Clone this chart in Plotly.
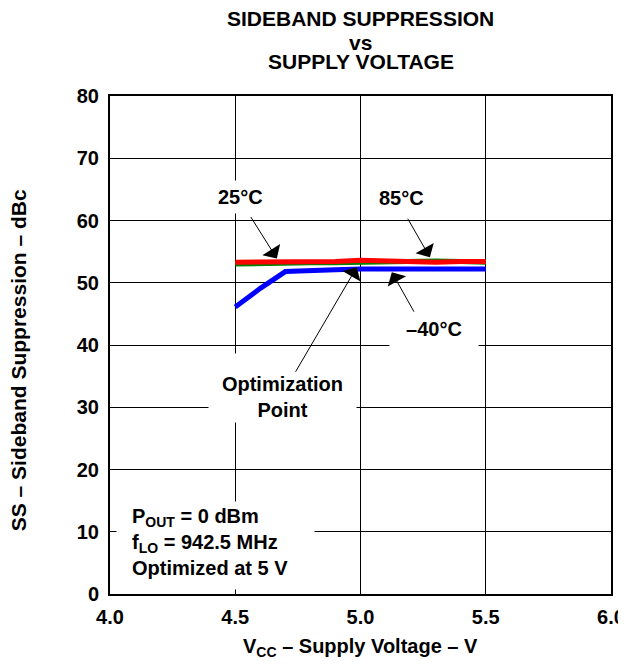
# Sideband suppression vs supply voltage, redrawn with plotly
import plotly.graph_objects as go

# supply voltage points (V)
vcc = [4.5, 4.6, 4.7, 4.8, 4.9, 5.0, 5.1, 5.2, 5.3, 5.4, 5.5]

# sideband suppression (dBc) for each temperature
ss_85c = [53.0, 53.1, 53.1, 53.2, 53.2, 53.3, 53.3, 53.4, 53.5, 53.4, 53.3]
ss_25c = [53.3, 53.3, 53.4, 53.4, 53.4, 53.6, 53.5, 53.3, 53.3, 53.4, 53.4]
ss_m40c = [46.1, 49.1, 51.8, 52.0, 52.1, 52.2, 52.2, 52.1, 52.0, 52.2, 52.2]

x_ticks = [4.0, 4.5, 5.0, 5.5, 6.0]
y_ticks = [0, 10, 20, 30, 40, 50, 60, 70, 80]

FONT = "Liberation Sans, Arial, sans-serif"

fig = go.Figure()
fig.add_trace(go.Scatter(x=vcc, y=ss_85c, mode="lines", line=dict(color="#008000", width=5)))
fig.add_trace(go.Scatter(x=vcc, y=ss_25c, mode="lines", line=dict(color="#ff0000", width=5)))
fig.add_trace(go.Scatter(x=vcc, y=ss_m40c, mode="lines", line=dict(color="#0000ff", width=5)))

# title lines, set one by one to keep the tight spacing
title_lines = [("SIDEBAND SUPPRESSION", 1.155), ("vs", 1.108), ("SUPPLY VOLTAGE", 1.070)]
for txt, yp in title_lines:
    fig.add_annotation(text=txt, xref="paper", yref="paper", x=0.5, y=yp,
                       showarrow=False, yanchor="middle", font=dict(size=21))

# axis titles as annotations so they sit exactly where the original has them
fig.add_annotation(text="V<sub>CC</sub> – Supply Voltage – V", xref="paper", yref="paper",
                   x=0.5, y=-0.108, showarrow=False, yanchor="middle", font=dict(size=20))
fig.add_annotation(text="SS – Sideband Suppression – dBc", xref="paper", yref="paper",
                   x=-0.181, y=0.47, showarrow=False, textangle=-90, xanchor="center",
                   font=dict(size=21))

# temperature labels with white boxes over the grid
label_kw = dict(showarrow=False, bgcolor="white", font=dict(size=20))
fig.add_annotation(text="25°C", x=4.52, y=63.8, borderpad=5, **label_kw)
fig.add_annotation(text="85°C", x=5.165, y=63.6, borderpad=5, **label_kw)
fig.add_annotation(text="–40°C", x=5.293, y=42.7, width=86, height=37, **label_kw)
fig.add_annotation(text="Optimization<br>Point", x=4.689, y=27.45, yanchor="bottom",
                   width=145, height=66, valign="bottom", **label_kw)

# conditions note: white box first, then the left aligned text on top
fig.add_annotation(text=" ", x=4.42, y=7.8, width=195, height=85, **label_kw)
fig.add_annotation(text="P<sub>OUT</sub> = 0 dBm<br>f<sub>LO</sub> = 942.5 MHz<br>Optimized at 5 V",
                   x=4.08, y=8.3, xanchor="left", align="left", showarrow=False,
                   font=dict(size=20))

# pointer arrows (tip on the curve, tail offset in pixels)
arrows = [(4.666, 53.9, -27, -43), (5.277, 54.1, -23, -40),
          (4.985, 52.5, -62, 106), (5.125, 51.7, 23, 41)]
for ax_x, ax_y, dx, dy in arrows:
    fig.add_annotation(text="", x=ax_x, y=ax_y, ax=dx, ay=dy, showarrow=True,
                       arrowhead=1, arrowsize=3.5, arrowwidth=1, arrowcolor="black", standoff=0)

# page body has an 8px margin, so the figure is drawn 8px smaller with the same plot box
fig.update_layout(
    width=618, height=656,
    margin=dict(l=102, r=15, t=88, b=70),
    paper_bgcolor="white", plot_bgcolor="white",
    showlegend=False,
    font=dict(family=FONT, size=20, color="black", weight="bold"),
)
fig.update_xaxes(range=[4, 6], tickvals=x_ticks, tickformat=".1f", automargin=False,
                 showgrid=True, gridcolor="black", gridwidth=1,
                 showline=True, linecolor="black", linewidth=2, mirror=True,
                 ticks="", ticklabelstandoff=4, zeroline=False)
fig.update_yaxes(range=[0, 80], tickvals=y_ticks, automargin=False,
                 showgrid=True, gridcolor="black", gridwidth=1,
                 showline=True, linecolor="black", linewidth=2, mirror=True,
                 ticks="", ticklabelstandoff=5, zeroline=False)

fig.write_html("out.html")
